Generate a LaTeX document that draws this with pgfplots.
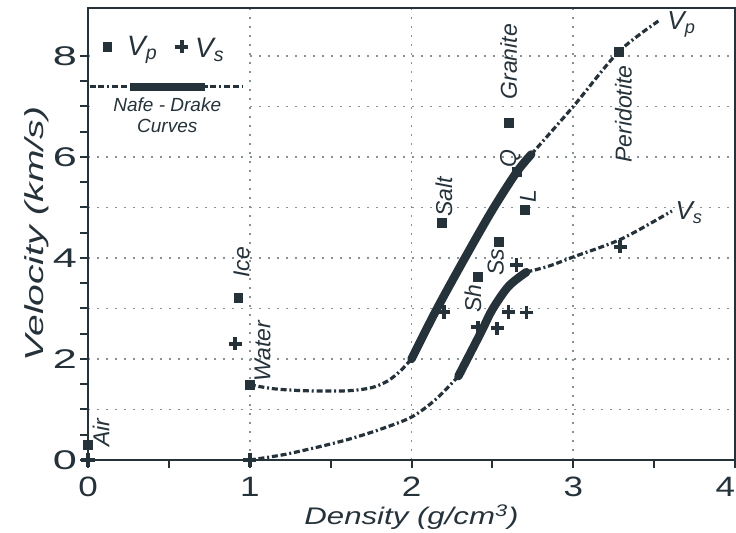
\documentclass[border=0pt]{standalone}
\usepackage{fontspec}
\usepackage{pgfplots}
\pgfplotsset{compat=1.18}
\setmainfont{Liberation Sans}
\newfontfamily\ytickfont[FakeStretch=1.6]{Liberation Sans}
\newfontfamily\xtickfont[FakeStretch=1.25]{Liberation Sans}
\newfontfamily\xlabfont[FakeStretch=1.3]{Liberation Sans}
\newfontfamily\ylabfont[FakeStretch=1.5]{Liberation Sans}
\definecolor{ink}{RGB}{38,50,58}
\definecolor{gridc}{RGB}{135,145,150}
\tikzset{
  nd/.style={ink, line width=1.6bp, dash pattern=on 3bp off 1.4bp on 3bp off 1.4bp on 1bp off 1.4bp},
  ndthick/.style={ink, line width=4.2bp, line cap=round},
  sq/.style={only marks, mark=square*, mark size=2.2bp, mark options={ink, fill=ink}},
  cr/.style={only marks, mark=+, mark size=3.3bp, mark options={ink, line width=1.8bp}},
  lab/.style={rotate=90, anchor=west, inner sep=0pt, text=ink, font=\fontsize{11.5bp}{12bp}\selectfont\itshape},
}
\begin{document}
\begin{tikzpicture}
\begin{axis}[
    scale only axis,
    width=323.5bp, height=226bp,
    xmin=0, xmax=4, ymin=0, ymax=8.95,
    xtick={0,1,2,3,4}, xticklabels={0,1,2,3,\makebox[0pt][r]{4}},
    ytick={0,1,...,8}, yticklabels={0,,2,,4,,6,,8},
    minor x tick num=1, minor y tick num=1,
    xtick pos=bottom, ytick pos=left,
    xmajorgrids, ymajorgrids,
    grid style={gridc, line width=0.9bp, dash pattern=on 0.9bp off 3.6bp},
    axis line style={ink, line width=1.1bp},
    tick style={ink, line width=1bp},
    tick align=outside,
    major tick length=4bp, minor tick length=4bp,
    xticklabel style={font=\xtickfont\fontsize{14bp}{14bp}\selectfont, text=ink, yshift=-1bp},
    yticklabel style={font=\ytickfont\fontsize{13.5bp}{13.5bp}\selectfont, text=ink, xshift=2bp},
    xlabel={Density (g/cm\textsuperscript{3})},
    ylabel={Velocity (km/s)},
    xlabel style={font=\xlabfont\fontsize{12bp}{12bp}\selectfont\itshape, text=ink, yshift=3bp},
    ylabel style={font=\ylabfont\fontsize{13bp}{13bp}\selectfont\itshape, text=ink, yshift=-5bp},
    clip=false,
]
% legend area hides grid
\fill[white] (axis cs:0.02,6.35) rectangle (axis cs:0.97,8.9);

% Nafe-Drake Vp curve
\addplot[nd, smooth, tension=0.5] coordinates {
  (1.0,1.49) (1.15,1.41) (1.35,1.37) (1.6,1.37) (1.75,1.43) (1.85,1.56) (1.93,1.76) (2.0,2.0)
};
\addplot[ndthick, smooth, tension=0.5] coordinates {
  (2.0,2.0) (2.15,2.95) (2.33,4.0) (2.5,4.95) (2.65,5.7) (2.74,6.05)
};
\addplot[nd, smooth, tension=0.5] coordinates {
  (2.74,6.05) (3.0,7.0) (3.28,8.08) (3.53,8.7)
};

% Nafe-Drake Vs curve
\addplot[nd, smooth, tension=0.5] coordinates {
  (1.0,0.0) (1.2,0.1) (1.4,0.24) (1.6,0.4) (1.8,0.6) (2.0,0.85) (2.15,1.2) (2.29,1.66)
};
\addplot[ndthick, smooth, tension=0.5] coordinates {
  (2.29,1.66) (2.43,2.53) (2.50,2.98) (2.60,3.44) (2.71,3.72)
};
\addplot[nd, smooth, tension=0.5] coordinates {
  (2.71,3.72) (2.85,3.84) (3.0,4.02) (3.3,4.38) (3.61,4.93)
};

% Vp measurements
\addplot[sq] coordinates {
  (0,0.30) (1.0,1.49) (0.93,3.21) (2.19,4.70) (2.60,6.67) (2.70,4.95)
  (2.54,4.32) (2.41,3.62) (2.65,5.70) (3.28,8.08)
};
% Vs measurements
\addplot[cr] coordinates {
  (0,0) (1,0) (0.91,2.30) (2.20,2.93) (2.41,2.63) (2.53,2.61)
  (2.60,2.93) (2.71,2.92) (2.65,3.86) (3.29,4.22)
};

% legend
\addplot[sq] coordinates {(0.12,8.18)};
\addplot[cr] coordinates {(0.58,8.18)};
\addplot[nd] coordinates {(0.01,7.39) (0.955,7.39)};
\addplot[ndthick, line cap=butt] coordinates {(0.26,7.39) (0.725,7.39)};
\node[anchor=west, inner sep=0pt, text=ink, font=\fontsize{14bp}{14bp}\selectfont\itshape] at (axis cs:0.24,8.12) {V\textsubscript{p}};
\node[anchor=west, inner sep=0pt, text=ink, font=\fontsize{14bp}{14bp}\selectfont\itshape] at (axis cs:0.66,8.12) {V\textsubscript{s}};
\node[align=center, inner sep=0pt, text=ink, font=\fontsize{9.5bp}{10.5bp}\selectfont\itshape] at (axis cs:0.49,6.82) {Nafe - Drake\\Curves};

% curve labels
\node[anchor=west, inner sep=0pt, text=ink, font=\fontsize{13bp}{13bp}\selectfont\itshape] at (axis cs:3.58,8.62) {V\textsubscript{p}};
\node[anchor=west, inner sep=0pt, text=ink, font=\fontsize{13bp}{13bp}\selectfont\itshape] at (axis cs:3.63,4.9) {V\textsubscript{s}};

% rock labels
\node[lab] at (axis cs:0.08,0.26) {Air};
\node[lab] at (axis cs:0.95,3.60) {Ice};
\node[lab] at (axis cs:1.08,1.54) {Water};
\node[lab] at (axis cs:2.20,4.81) {Salt};
\node[lab] at (axis cs:2.60,7.13) {Granite};
\node[lab] at (axis cs:2.61,5.78) {Q};
\node[lab] at (axis cs:2.72,5.09) {L};
\node[lab] at (axis cs:2.52,3.64) {Ss};
\node[lab] at (axis cs:2.38,2.91) {Sh};
\node[lab] at (axis cs:3.31,5.88) {Peridotite};
\end{axis}
\pgfresetboundingbox
\path[use as bounding box] ([xshift=-44bp,yshift=-36.5bp]current axis.south west) rectangle ([xshift=0.5bp,yshift=4bp]current axis.north east);
\end{tikzpicture}
\end{document}
